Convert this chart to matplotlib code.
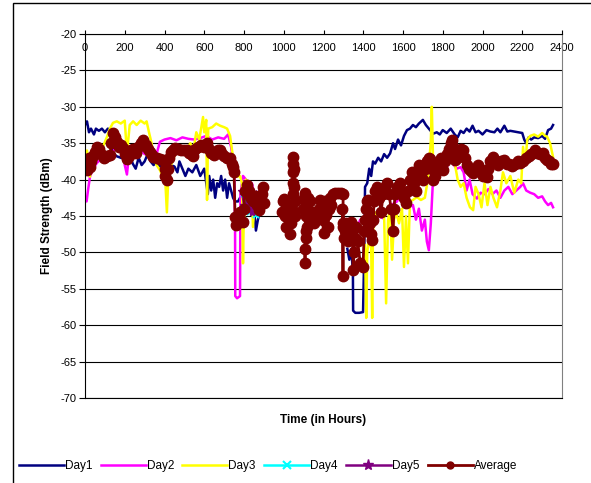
import numpy as np
import matplotlib
matplotlib.use("Agg")
import matplotlib.pyplot as plt
from matplotlib.patches import Rectangle

plt.rcParams['font.family'] = ['Liberation Sans', 'DejaVu Sans']
plt.rcParams['axes.unicode_minus'] = False

nan = np.nan

# ---- data ----
day1_x = [0, 10, 20, 30, 45, 55, 70, 85, 100, 115, 126, 135, 141, 160, 180, 200, 215, 226, 240, 255,
          270, 285, 300, 315, 330, 345, 360, 377, 395, 410, 430, 450, 465, 475, 490, 505, 520, 540, 560, 580,
          600, 610, 618, 625, 635, 645, 655, 665, 675, 685, 695, 705, 715, 725, 735, 745, 755, 770, 780, 795,
          810, 825, 840, 850, 860, 870, 880, nan,
          1320, 1330, 1340, 1348, 1349, 1360, 1380, 1399, 1405, 1409, 1420, 1430, 1440, 1449, 1460, 1475,
          1490, 1505, 1520, 1535, 1550, 1560, 1575, 1590, 1605, 1620, 1635, 1650, 1665, 1680, 1700, 1715,
          1730, 1751, 1770, 1785, 1800, 1820, 1840, 1860, 1875, 1890, 1905, 1920, 1935, 1950, 1965, 1980,
          2000, 2020, 2040, 2060, 2075, 2090, 2110, 2125, 2140, 2160, 2180, 2200, 2210, 2220, 2232, 2245,
          2260, 2280, 2300, 2315, 2330, 2345, 2355]
day1_y = [-32.5, -32.0, -33.5, -33.0, -33.8, -33.0, -33.3, -33.0, -33.5, -33.0, -33.2, -34.5, -36.4, -36.8,
          -37.0, -37.2, -37.5, -36.4, -37.8, -38.5, -37.0, -38.0, -37.5, -36.5, -37.5, -38.0, -37.5, -38.2,
          -37.6, -38.5, -38.0, -38.2, -39.0, -37.5, -38.5, -39.5, -38.5, -39.0, -38.0, -39.5, -38.5, -40.5,
          -42.0, -39.5, -41.5, -40.0, -42.5, -40.5, -41.0, -39.5, -41.5, -40.0, -42.5, -40.5, -41.5, -42.5,
          -43.0, -43.0, -42.5, -43.5, -44.0, -43.5, -45.0, -44.0, -47.0, -45.5, -44.5, nan,
          -49.5, -51.0, -49.5, -52.8, -58.0, -58.3, -58.3, -58.2, -50.0, -41.0, -40.5, -38.5, -39.5, -37.5,
          -37.8, -37.0, -37.5, -36.5, -37.0, -36.4, -35.0, -35.8, -34.5, -35.3, -34.0, -33.2, -33.0, -32.5,
          -32.8, -32.3, -31.8, -32.5, -33.0, -33.7, -33.5, -33.8, -33.2, -33.6, -33.0, -33.8, -34.2, -33.3,
          -33.6, -33.0, -33.4, -32.6, -33.5, -33.3, -33.8, -33.2, -33.4, -33.5, -33.0, -33.5, -32.6, -33.4,
          -33.3, -33.4, -33.5, -33.6, -34.5, -35.0, -34.2, -34.5, -34.2, -34.3, -34.0, -34.4, -33.2, -33.0,
          -32.5]

day2_x = [0, 8, 15, 25, 40, 60, 80, 100, 126, 145, 161, 175, 191, 200, 211, 220, 240, 260, 280, 300,
          320, 340, 360, 377, 400, 430, 460, 490, 520, 550, 579, 610, 640, 670, 700, 720, 735, 745, 752, 755,
          756, 765, 780, 782, 795, 810, 825, 840, 855, 870, 880, nan,
          1323, 1340, 1355, 1368, 1385, 1400, 1420, 1449, 1470, 1500, 1520, 1540, 1570, 1590, 1610, 1630,
          1650, 1665, 1680, 1695, 1710, 1720, 1730, 1740, 1751, 1770, 1790, 1810, 1836, 1850, 1870, 1890,
          1905, 1920, 1935, 1950, 1972, 1990, 2010, 2030, 2050, 2070, 2090, 2110, 2130, 2150, 2170, 2190,
          2204, 2220, 2240, 2260, 2280, 2300, 2315, 2330, 2345, 2355]
day2_y = [-42.8, -43.0, -41.5, -39.6, -38.5, -37.7, -37.2, -37.3, -36.9, -36.0, -35.5, -36.2, -36.4, -38.0,
          -39.3, -37.0, -36.5, -36.8, -36.0, -36.5, -36.2, -37.0, -36.5, -34.8, -34.5, -34.3, -34.6, -34.2,
          -34.4, -34.5, -34.3, -34.0, -34.5, -34.2, -34.4, -33.8, -35.5, -37.5, -40.0, -46.5, -56.0, -56.3,
          -56.0, -42.0, -39.5, -40.0, -41.5, -40.5, -42.5, -43.0, -43.8, nan,
          -45.5, -46.3, -45.7, -46.5, -45.5, -46.0, -45.5, -45.3, -45.0, -45.3, -44.0, -43.5, -43.0, -41.7,
          -42.5, -43.8, -43.5, -45.5, -44.0, -47.0, -45.5, -48.5, -49.7, -46.0, -40.0, -40.5, -38.5, -39.0,
          -37.3, -37.8, -38.5, -38.3, -39.0, -41.5, -40.0, -42.0, -42.6, -41.8, -42.0, -41.3, -42.0, -41.5,
          -42.5, -41.5, -41.0, -42.0, -41.5, -41.0, -40.5, -41.5, -41.8, -42.0, -42.5, -42.3, -43.0, -43.5,
          -43.2, -43.8]

day3_x = [0, 10, 20, 25, 35, 50, 70, 90, 111, 125, 141, 160, 180, 200, 211, 225, 242, 260, 280, 300,
          310, 322, 335, 342, 360, 377, 390, 400, 412, 420, 440, 460, 480, 500, 512, 530, 545, 560, 575, 594,
          600, 610, 614, 620, 640, 660, 680, 700, 715, 730, 745, 755, 765, 780, 790, 795, 798, 810, 825, 840,
          845, 855, 870, nan,
          1409, 1415, 1420, 1430, 1440, 1445, 1449, 1460, 1475, 1490, 1505, 1515, 1525, 1535, 1545, 1555,
          1565, 1580, 1595, 1605, 1615, 1625, 1635, 1650, 1670, 1690, 1710, 1725, 1740, 1745, 1751, 1770,
          1785, 1801, 1815, 1835, 1852, 1860, 1875, 1890, 1905, 1920, 1937, 1953, 1965, 1980, 1995, 2010,
          2025, 2040, 2055, 2073, 2090, 2103, 2120, 2140, 2160, 2180, 2195, 2204, 2215, 2225, 2240, 2260,
          2280, 2300, 2315, 2325, 2340, 2355]
day3_y = [-36.5, -36.0, -38.0, -39.6, -37.5, -36.5, -36.0, -35.5, -34.1, -33.0, -32.2, -32.0, -32.3, -31.9,
          -36.4, -32.5, -32.0, -32.5, -31.9, -32.3, -32.0, -33.5, -35.0, -36.4, -38.0, -38.7, -39.5, -38.0,
          -44.5, -39.0, -37.5, -36.0, -35.5, -36.5, -35.8, -35.0, -36.0, -33.5, -34.5, -31.4, -33.5, -31.8,
          -42.8, -33.0, -32.8, -32.3, -32.6, -32.8, -33.0, -34.0, -37.0, -39.0, -39.6, -39.5, -40.5, -51.5,
          -46.5, -40.0, -40.5, -41.0, -46.5, -42.5, -43.0, nan,
          -49.0, -59.0, -50.0, -48.0, -49.5, -59.0, -47.0, -44.5, -45.0, -44.0, -45.0, -57.0, -45.5, -44.0,
          -51.0, -45.5, -44.5, -46.0, -44.0, -52.0, -45.0, -51.5, -43.0, -42.8, -42.4, -42.8, -42.5, -40.0,
          -34.7, -30.0, -37.0, -38.5, -39.0, -38.3, -36.0, -34.5, -34.1, -37.7, -40.0, -41.0, -40.5, -42.5,
          -43.8, -44.2, -41.0, -42.0, -43.8, -40.5, -43.5, -41.0, -42.5, -43.8, -41.5, -39.0, -40.5, -39.5,
          -41.8, -40.0, -40.5, -35.5, -38.0, -34.5, -34.0, -33.8, -34.1, -33.6, -34.0, -34.1, -35.0, -36.9]

day4_x = [800, 815, 830, 845, 860, 875]
day4_y = [-42.0, -43.5, -44.5, -43.0, -44.8, -42.5]

day5_x = [790, 800, 810, 820, 830, 840, 850, 860, 870, 880]
day5_y = [-41.5, -43.5, -44.0, -42.5, -43.8, -44.5, -43.0, -42.0, -44.0, -43.0]

avg_x = [0, 5, 10, 15, 20, 25, 30, 40, 50, 60, 70, 80, 95, 110, 126, 133, 141, 150, 160, 170, 180, 191,
         200, 211, 220, 230, 242, 255, 265, 280, 293, 305, 315, 325, 335, 342, 360, 375, 392, 400, 405, 412,
         418, 425, 435, 443, 455, 470, 485, 500, 513, 525, 535, 543, 555, 570, 585, 600, 614, 625, 635, 648,
         660, 670, 680, 690, 700, 715, 730, 740, 745, 750, 755, 758, 770, 780, 795, 800, 805, 815, 825, 835,
         845, 855, 865, 875, 880, 890, 896, 900, nan,
         990, 995, 1000, 1005, 1010, 1015, 1020, 1025, 1030, 1035, 1040, 1045, 1047, 1048, 1047, 1046, 1050,
         1052, 1055, 1057, 1097, 1100, 1105, 1108, 1112, 1115, 1110, 1105, 1107, 1112, 1118, 1122, 1127,
         1132, 1140, 1150, 1160, 1175, 1182, 1190, 1195, 1200, 1205, 1210, 1215, 1222, 1230, 1235, 1240,
         1248, 1260, 1275, 1290, 1298, 1300, 1298, 1295, 1300, 1305, 1310, 1315, 1320, 1325, 1330, 1338,
         1345, 1349, 1352, 1358, 1365, 1372, 1385, 1399, 1405, 1410, 1415, 1420, 1425, 1430, 1435, 1440,
         1445, 1449, 1455, 1460, 1470, 1480, 1490, 1500, 1510, 1520, 1530, 1540, 1550, 1555, 1560, 1570,
         1585, 1595, 1605, 1615, 1625, 1635, 1645, 1655, 1665, 1670, 1680, 1690, 1700, 1710, 1720, 1730,
         1736, 1745, 1751, 1760, 1770, 1780, 1790, 1801, 1810, 1820, 1830, 1840, 1846, 1852, 1861, 1870,
         1880, 1890, 1902, 1912, 1920, 1930, 1940, 1953, 1965, 1975, 1985, 1995, 2005, 2015, 2022, 2030,
         2040, 2053, 2065, 2080, 2095, 2110, 2123, 2135, 2150, 2165, 2180, 2190, 2205, 2220, 2235, 2245,
         2254, 2265, 2275, 2290, 2305, 2315, 2325, 2335, 2345, 2355]
avg_y = [-37.6, -38.2, -38.7, -37.8, -37.0, -38.3, -37.5, -36.8, -36.2, -35.5, -35.8, -36.5, -37.0, -36.8,
         -36.6, -35.0, -33.6, -34.2, -34.8, -35.5, -35.2, -35.7, -36.5, -37.2, -36.8, -36.0, -35.8, -36.3,
         -35.5, -35.0, -34.6, -35.2, -35.8, -36.2, -36.6, -36.9, -37.0, -37.2, -37.3, -38.5, -39.5, -40.0,
         -38.5, -37.0, -36.2, -35.9, -35.6, -35.8, -36.0, -35.9, -35.9, -36.3, -36.5, -36.7, -35.8, -35.5,
         -35.2, -35.5, -35.0, -35.8, -36.3, -36.6, -36.2, -36.0, -36.0, -36.5, -36.8, -37.0, -37.0, -37.8,
         -38.3, -39.0, -45.2, -46.2, -45.5, -44.5, -45.8, -44.0, -41.5, -40.8, -41.5, -42.5, -43.0, -42.3,
         -43.5, -44.2, -43.5, -42.0, -41.0, -43.2, nan,
         -44.5, -43.0, -42.6, -45.0, -46.5, -44.0, -43.5, -45.5, -47.5, -46.0, -44.0, -42.0, -40.5, -39.0,
         -37.8, -36.9, -38.5, -41.0, -43.0, -45.0, -44.0, -42.5, -41.8, -43.0, -45.0, -46.5, -48.0, -49.5,
         -51.5, -47.0, -44.0, -42.5, -45.5, -43.0, -44.5, -46.0, -45.0, -44.0, -42.8, -43.5, -45.5, -47.3,
         -45.0, -43.0, -44.8, -46.5, -44.0, -42.5, -43.5, -42.0, -41.9, -41.9, -41.8, -42.0, -46.0, -53.3,
         -44.0, -46.5, -48.0, -47.0, -46.0, -47.5, -48.5, -46.8, -45.8, -47.0, -52.4, -50.0, -48.0, -46.5,
         -48.5, -51.5, -52.0, -47.0, -45.5, -44.0, -43.0, -42.8, -44.5, -46.0, -47.5, -48.3, -45.5, -43.0,
         -41.5, -41.0, -42.5, -44.5, -42.0, -41.0, -40.5, -42.0, -44.0, -47.0, -44.0, -42.0, -41.0, -40.5,
         -41.5, -42.5, -43.2, -41.5, -40.0, -39.0, -40.5, -41.5, -39.5, -38.0, -39.5, -40.0, -38.5, -37.5,
         -37.0, -37.2, -38.5, -40.0, -39.5, -38.5, -37.8, -37.0, -38.7, -37.5, -36.5, -35.8, -35.0, -34.6,
         -35.5, -37.3, -37.0, -36.5, -35.8, -36.0, -37.0, -38.0, -38.5, -38.8, -39.1, -38.5, -38.0, -38.5,
         -39.0, -39.5, -39.0, -39.6, -38.5, -37.5, -36.9, -37.5, -38.0, -37.5, -37.3, -37.8, -37.8, -38.2,
         -37.8, -37.5, -37.7, -37.5, -37.0, -36.8, -36.5, -36.4, -36.0, -36.3, -36.5, -36.4, -37.0, -37.3,
         -37.5, -37.8, -37.8]

y_ticks = [-20, -25, -30, -35, -40, -45, -50, -55, -60, -65, -70]
x_ticks = [0, 200, 400, 600, 800, 1000, 1200, 1400, 1600, 1800, 2000, 2200, 2400]

# ---- figure ----
fig = plt.figure(figsize=(5.91, 4.83), dpi=100)
ax = fig.add_axes([85 / 591, 1 - 398 / 483, 477 / 591, 364 / 483])

# outer chart frame
fig.patches.append(Rectangle((13 / 591, -0.1), 1.2, 1 - 3 / 483 + 0.1, transform=fig.transFigure,
                             fill=False, edgecolor='black', linewidth=1.0))

ax.plot(day1_x, day1_y, color='#000080', lw=1.8, label='Day1')
ax.plot(day2_x, day2_y, color='#FF00FF', lw=1.8, label='Day2')
ax.plot(day3_x, day3_y, color='#FFFF00', lw=1.8, label='Day3')
ax.plot(day4_x, day4_y, color='#00FFFF', lw=1.8, marker='x', ms=4, mew=1.5, label='Day4')
ax.plot(day5_x, day5_y, color='#800080', lw=1.8, marker='*', ms=6, label='Day5')
ax.plot(avg_x, avg_y, color='#800000', lw=2.0, marker='o', ms=7.5, label='Average')

ax.set_xlim(0, 2400)
ax.set_ylim(-70, -20)
ax.set_xticks(x_ticks)
ax.set_yticks(y_ticks)
ax.grid(axis='y', color='black', lw=0.8)
ax.set_axisbelow(True)

ax.xaxis.tick_top()
ax.tick_params(axis='x', direction='out', length=3, width=0.8, labelsize=8, pad=-17)
ax.tick_params(axis='y', direction='out', length=4, width=0.8, labelsize=8, pad=2)

ax.spines['top'].set_color('black')
ax.spines['left'].set_color('black')
ax.spines['bottom'].set_color('black')
ax.spines['right'].set_color('#808080')

fig.text(47 / 591, 1 - 216 / 483, 'Field Strength (dBm)', rotation=90, ha='center', va='center',
         fontsize=8.5, fontweight='bold')
fig.text(323 / 591, 1 - 420 / 483, 'Time (in Hours)', ha='center', va='center',
         fontsize=8.5, fontweight='bold')

leg = fig.legend(loc='center', bbox_to_anchor=(268 / 591, 1 - 466 / 483), ncol=6, frameon=False,
                 fontsize=8.5, handlelength=3.8, handletextpad=0.1, columnspacing=0.7)
for h, ms in zip(leg.legend_handles, [0, 0, 0, 6, 8, 5]):
    h.set_markersize(ms)

fig.savefig('out.png', dpi=100)
